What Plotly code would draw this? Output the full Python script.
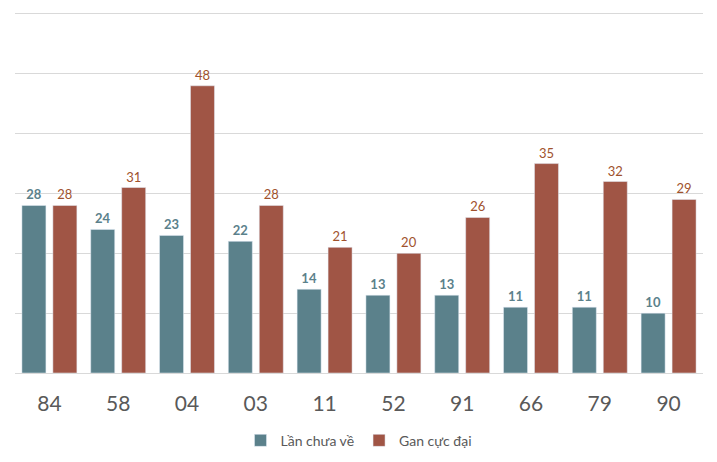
import plotly.graph_objects as go

categories = ["84", "58", "04", "03", "11", "52", "91", "66", "79", "90"]
lan_chua_ve = [28, 24, 23, 22, 14, 13, 13, 11, 11, 10]
gan_cuc_dai = [28, 31, 48, 28, 21, 20, 26, 35, 32, 29]

blue = "#5B818B"
red = "#A05545"

fig = go.Figure()
fig.add_trace(go.Bar(
    x=categories, y=lan_chua_ve, name="Lần chưa về",
    marker_color=blue, text=lan_chua_ve, textposition="outside",
    textfont=dict(family="Lato", size=13, color=blue, weight="bold"),
    cliponaxis=False,
))
fig.add_trace(go.Bar(
    x=categories, y=gan_cuc_dai, name="Gan cực đại",
    marker_color=red, text=gan_cuc_dai, textposition="outside",
    textfont=dict(family="Lato", size=13, color="#A0522D"),
    cliponaxis=False,
))

fig.update_layout(
    width=717, height=462,
    margin=dict(l=15, r=14, t=11, b=89, autoexpand=False),
    paper_bgcolor="white", plot_bgcolor="white",
    barmode="group", bargap=0.1, bargroupgap=0.225,
    font=dict(family="Lato", color="#595959"),
    showlegend=True,
    legend=dict(orientation="h", x=0.5, xanchor="center", y=-0.143, yanchor="top",
                font=dict(size=14, color="#595959"), itemwidth=30),
    xaxis=dict(tickfont=dict(size=21, color="#595959"), showline=True,
               linecolor="#D9D9D9", linewidth=1, ticks="", type="category",
               automargin=False, ticklabelstandoff=12),
    yaxis=dict(range=[0, 60.5], dtick=10, showticklabels=False, gridcolor="#D9D9D9",
               zeroline=False, showline=False, automargin=False),
)

fig.write_html("out.html", config={"displayModeBar": False},
               post_script="document.body.style.margin='0';document.body.style.padding='0';")
